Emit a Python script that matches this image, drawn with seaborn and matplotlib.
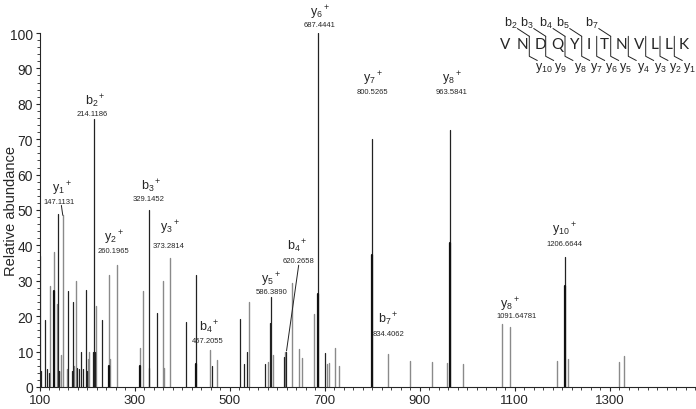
from matplotlib import pyplot as plt
from matplotlib.lines import Line2D
from matplotlib.ticker import MultipleLocator
import numpy as np
import pandas as pd
import seaborn as sns

sns.set_style('ticks')
plt.rcParams['font.family'] = ['Liberation Sans', 'DejaVu Sans']
plt.rcParams['mathtext.fontset'] = 'custom'
plt.rcParams['mathtext.rm'] = 'Liberation Sans'
plt.rcParams['mathtext.it'] = 'Liberation Sans'

# peaks (m/z, relative abundance)
gray_mz = [101, 121, 130, 135, 144, 147.7, 156, 172, 175.7, 201, 203.7, 217, 245, 246.5,
           261.3, 310, 316, 358.7, 361, 373.4, 457.5, 472, 539.5, 581, 591, 616.7, 631.4,
           645.4, 651.7, 678.3, 704.3, 708.4, 721.8, 731, 833, 880, 926, 957.4, 991, 1073,
           1090.5, 1189, 1212.5, 1319, 1330]
gray_int = [37, 28.5, 38, 23.5, 9, 48.5, 5, 6, 30, 8, 10, 23, 31.5, 8,
            34.5, 11, 27, 30, 5.5, 36.3, 10.5, 7.5, 24, 7, 9, 10, 29.3,
            10.6, 8.2, 20.5, 6.5, 6.8, 11, 5.8, 9.3, 7.4, 7.2, 6.8, 6.5, 17.8,
            16.9, 7.3, 7.9, 7.1, 8.8]
dark_mz = [102, 111, 115, 118, 137, 139, 141, 159.6, 166.6, 170, 177.5, 182.7, 186.9, 190,
           197.4, 200, 210.8, 214.2, 216.5, 231, 330, 328.6, 346.7, 407, 428.7, 462, 520.6,
           530.5, 536.8, 574.6, 584.3, 587.2, 614.6, 618.8, 686.7, 701.5, 800.5, 963.6, 1205.5]
dark_int = [4.5, 19, 5, 4, 49, 4.5, 4.5, 27, 4.5, 24, 5.5, 5, 10, 5,
            27.5, 4.5, 10, 75.7, 10, 19, 5.5, 50, 21, 18.5, 31.5, 6, 19.2,
            6.6, 10, 6.5, 18, 25.3, 8.4, 10, 100, 9.5, 70, 72.5, 36.8]
over_mz = [130, 245, 310, 428.7, 686.7, 800.5, 963.6, 1205.5]
over_int = [27, 6, 6, 6.5, 26.4, 37.3, 40.8, 28.6]

ion_names = ['y$_1$$^+$', 'b$_2$$^+$', 'y$_2$$^+$', 'b$_3$$^+$', 'y$_3$$^+$', 'b$_4$$^+$',
             'y$_5$$^+$', 'b$_4$$^+$', 'y$_6$$^+$', 'y$_7$$^+$', 'b$_7$$^+$', 'y$_8$$^+$',
             'y$_8$$^+$', 'y$_{10}$$^+$']
ion_mass = ['147.1131', '214.1186', '260.1965', '329.1452', '373.2814', '457.2055',
            '586.3890', '620.2658', '687.4441', '800.5265', '834.4062', '963.5841',
            '1091.64781', '1206.6644']
# label placement (name x, name y, mass x, mass y) in data units
label_pos = [(146, 56.2, 140, 52.3), (215.7, 81, 209, 77.4), (255.6, 42.4, 255.6, 38.6),
             (333.4, 57, 329, 53.2), (373.4, 45.2, 371.3, 40), (457.5, 17, 453, 13.2),
             (585.8, 30.6, 587.3, 27), (642.6, 40, 644.7, 35.8), (688.9, 106, 688.9, 102.5),
             (802.4, 87.3, 800.3, 83.5), (834, 19.3, 834, 15.2), (968.6, 87.3, 966.5, 83.5),
             (1090.5, 23.4, 1105, 20.1), (1204, 44.6, 1204, 40.5)]

sequence = list('VNDQYITNVLLK')
b_ions = {1: 'b$_2$', 2: 'b$_3$', 3: 'b$_4$', 4: 'b$_5$', 6: 'b$_7$'}


def stems(mz, inten, tag):
    rows = []
    for i, (m, h) in enumerate(zip(mz, inten)):
        rows.append((f'{tag}{i}', m, 0.0))
        rows.append((f'{tag}{i}', m, h))
    return pd.DataFrame(rows, columns=['peak', 'mz', 'intensity'])


W, H = 696, 410
fig = plt.figure(figsize=(W / 100, H / 100), dpi=100)
ax = fig.add_axes([40 / W, 1 - 388 / H, 655 / W, 354 / H])

for mz, inten, tag, col, lw in [(gray_mz, gray_int, 'g', '#8a8a8a', 1.0),
                                (dark_mz, dark_int, 'd', '#222222', 0.9),
                                (over_mz, over_int, 'o', '#111111', 1.6)]:
    sns.lineplot(data=stems(mz, inten, tag), x='mz', y='intensity', units='peak',
                 estimator=None, sort=False, color=col, lw=lw, ax=ax, legend=False)

ax.set_xlim(100, 1480)
ax.set_ylim(0, 100)
ax.xaxis.set_major_locator(MultipleLocator(200, offset=100))
ax.xaxis.set_minor_locator(MultipleLocator(20))
ax.yaxis.set_major_locator(MultipleLocator(10))
ax.yaxis.set_minor_locator(MultipleLocator(2))
ax.tick_params(which='major', length=3, width=0.8, labelsize=10, pad=2)
ax.tick_params(axis='x', which='major', labelsize=9.5, pad=2)
ax.tick_params(which='minor', length=2, width=0.6)
ax.set_xlabel('')
ax.set_ylabel('')
sns.despine(ax=ax)
for s in ax.spines.values():
    s.set_linewidth(0.8)


def fp(x, y):
    return x / W, 1 - y / H


fig.text(*fp(11, 211), 'Relative abundance', rotation=90, ha='center', va='center',
         fontsize=10.5)

for name, mass, (nx, ny, mx, my) in zip(ion_names, ion_mass, label_pos):
    ax.text(nx, ny, name, ha='center', va='center', fontsize=9, clip_on=False)
    ax.text(mx, my, mass, ha='center', va='center', fontsize=5.5, clip_on=False)
ax.plot([145, 148], [51.3, 48.5], color='#222222', lw=0.7)
ax.plot([645, 619.4], [34.4, 10.2], color='#222222', lw=0.7)

letter_x = [505, 522.7, 540, 557.7, 575, 589, 604, 621.7, 639.3, 655, 669, 684]
sep_x = [529.3, 545.7, 565, 581.7, 596.7, 610.7, 628.3, 645.7, 660, 674.3]
for x, aa in zip(letter_x, sequence):
    fig.text(*fp(x, 45), aa, ha='center', va='center', fontsize=11, family='Lato')
for k, sx in enumerate(sep_x, start=1):
    fig.add_artist(Line2D([sx / W, sx / W, (sx + 8) / W],
                          [1 - 37.3 / H, 1 - 57.3 / H, 1 - 61.5 / H], color='#222222', lw=0.7))
    fig.text(*fp(sx + 15, 68), f'y$_{{{11 - k}}}$', ha='center', va='center', fontsize=9)
    if k in b_ions:
        fig.add_artist(Line2D([(sx - 12) / W, sx / W], [1 - 29.5 / H, 1 - 37.3 / H],
                              color='#222222', lw=0.7))
        fig.text(*fp(sx - 19, 23), b_ions[k], ha='center', va='center', fontsize=9)

fig.savefig('out.png', dpi=100)
